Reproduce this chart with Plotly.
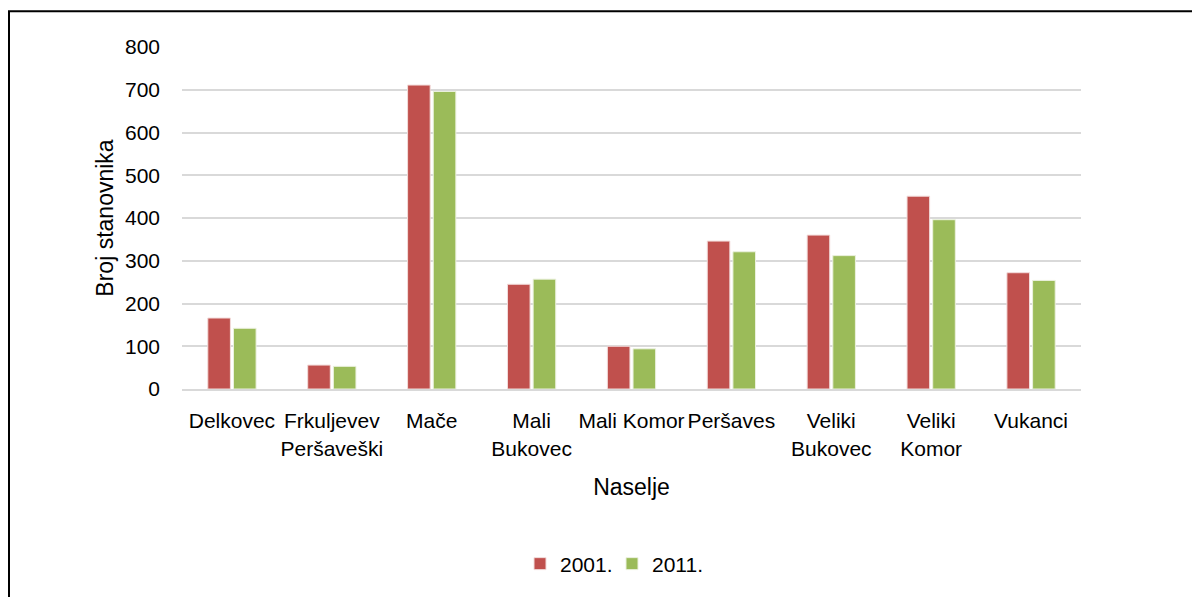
import plotly.graph_objects as go

categories = ["Delkovec", "Frkuljevev<br>Peršaveški", "Mače", "Mali<br>Bukovec", "Mali Komor",
              "Peršaves", "Veliki<br>Bukovec", "Veliki<br>Komor", "Vukanci"]
values_2001 = [166, 56, 711, 245, 100, 346, 360, 451, 272]
values_2011 = [142, 53, 696, 257, 94, 321, 312, 396, 254]
series_names = ["2001.", "2011."]
y_ticks = [0, 100, 200, 300, 400, 500, 600, 700, 800]

RED = "#C0504D"
GREEN = "#9BBB59"
FONT = "Liberation Sans Narrow, Arial Narrow, Liberation Sans, Arial, sans-serif"

fig = go.Figure()
fig.add_trace(go.Bar(x=categories, y=values_2001, name=series_names[0],
                     marker=dict(color=RED, line=dict(color="#F2DCDB", width=1))))
fig.add_trace(go.Bar(x=categories, y=values_2011, name=series_names[1],
                     marker=dict(color=GREEN, line=dict(color="#EBF1DE", width=1))))

# page body has 8px margin; work in window pixels and offset
OFF = 8
W, H = 1200 - OFF, 597 - OFF
L, R, T, B = 182 - OFF, 1200 - 1081, 47 - OFF, 597 - 391
pw, ph = W - L - R, H - T - B

def px_x(p):
    return (p - OFF - L) / pw

def px_y(p):
    return (H - B - (p - OFF)) / ph

fig.update_layout(
    width=W, height=H,
    margin=dict(l=L, r=R, t=T, b=B, pad=0),
    paper_bgcolor="white", plot_bgcolor="white",
    barmode="group", bargap=0.486, bargroupgap=0.12,
    font=dict(family=FONT, size=21, color="#000000"),
    showlegend=True,
    legend=dict(orientation="h", x=px_x(612), xanchor="center", y=px_y(567), yanchor="middle",
                font=dict(size=21), itemwidth=30, entrywidth=47, traceorder="normal"),
    xaxis=dict(
        showgrid=False, showline=True, linecolor="#D9D9D9", linewidth=2,
        ticks="", tickfont=dict(size=21), ticklabelstandoff=12,
        title=dict(text="Naselje", font=dict(size=23), standoff=20),
    ),
    yaxis=dict(
        range=[0, 800], tickvals=y_ticks, showgrid=True, gridcolor="#D9D9D9", gridwidth=2,
        zeroline=False, showline=False, ticks="", ticklabelstandoff=21,
        tickfont=dict(size=21),
        title=dict(text="Broj stanovnika", font=dict(size=23), standoff=4),
    ),
    shapes=[dict(type="rect", xref="paper", yref="paper",
                 x0=px_x(9), x1=px_x(1210), y0=px_y(11), y1=px_y(610),
                 line=dict(color="black", width=2), fillcolor="rgba(0,0,0,0)", layer="above")],
)

fig.write_html("out.html")
